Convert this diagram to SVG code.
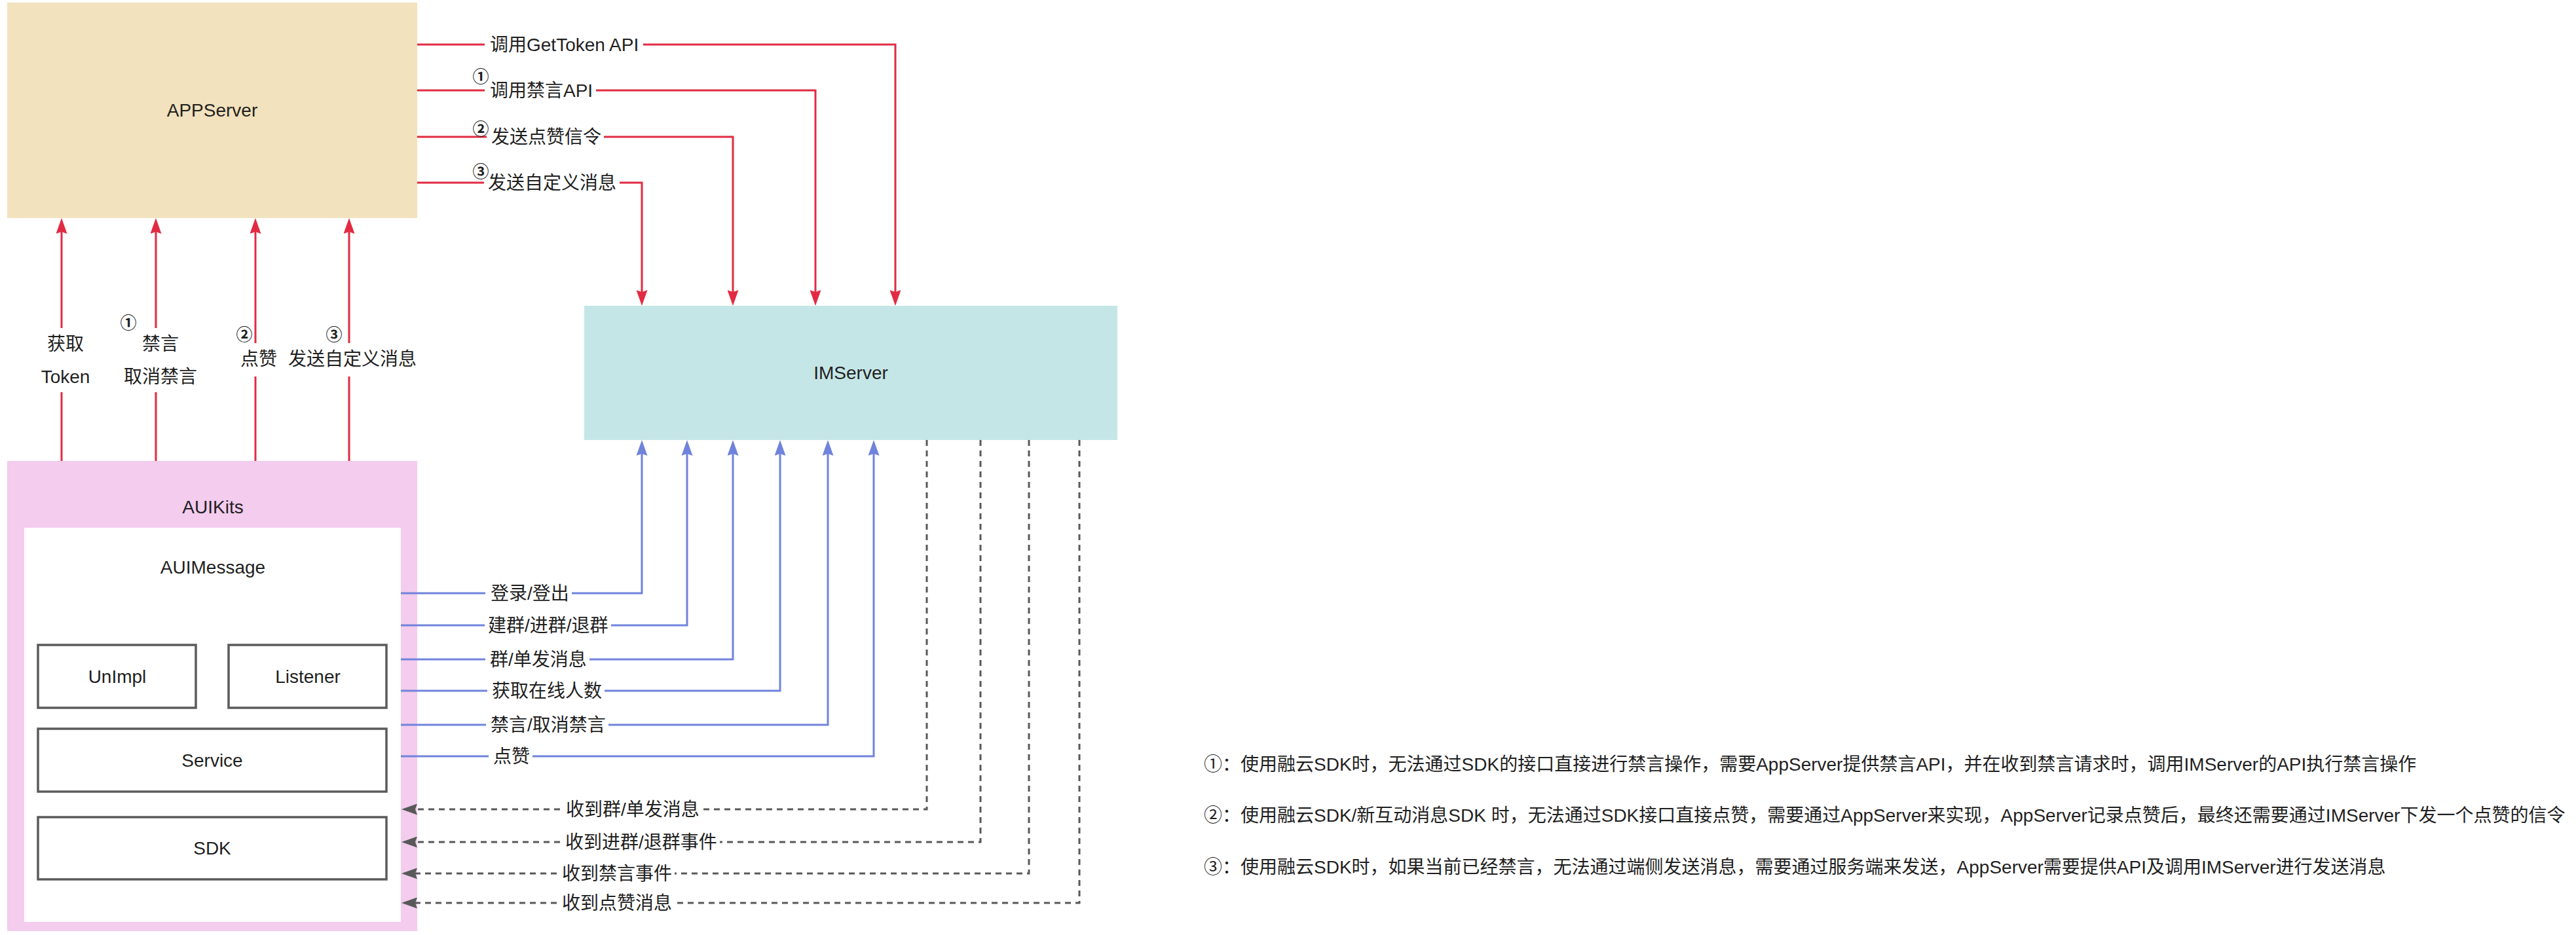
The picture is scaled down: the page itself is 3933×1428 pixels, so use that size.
<svg xmlns="http://www.w3.org/2000/svg" width="3933" height="1428" viewBox="0 0 3933 1428">
<style>
  text { font-family: "Liberation Sans", "Noto Sans CJK SC", sans-serif; font-size: 28px; fill: #1f1f1f; dominant-baseline: central; }
  .c { text-anchor: middle; }
  .num { font-family: "Noto Sans CJK SC", sans-serif; font-size: 25px; font-weight: 700; text-anchor: middle; }
  .box { fill: #ffffff; stroke: #5b5b5b; stroke-width: 3.5; }
  .red { fill: none; stroke: #e22b42; stroke-width: 3; marker-end: url(#arRed); }
  .blue { fill: none; stroke: #7083dc; stroke-width: 3; marker-end: url(#arBlue); }
  .dash { fill: none; stroke: #595959; stroke-width: 3; stroke-dasharray: 9 7; marker-end: url(#arGray); }
</style>
<defs>
  <marker id="arRed" viewBox="0 0 24 17" refX="14" refY="8.5" markerWidth="24" markerHeight="17" orient="auto" markerUnits="userSpaceOnUse">
    <path d="M0,0 L24,8.5 L0,17 L3,8.5 Z" fill="#e22b42"/>
  </marker>
  <marker id="arBlue" viewBox="0 0 24 17" refX="14" refY="8.5" markerWidth="24" markerHeight="17" orient="auto" markerUnits="userSpaceOnUse">
    <path d="M0,0 L24,8.5 L0,17 L3,8.5 Z" fill="#7083dc"/>
  </marker>
  <marker id="arGray" viewBox="0 0 24 17" refX="14" refY="8.5" markerWidth="24" markerHeight="17" orient="auto" markerUnits="userSpaceOnUse">
    <path d="M0,0 L24,8.5 L0,17 L3,8.5 Z" fill="#595959"/>
  </marker>
</defs>
<rect width="3933" height="1428" fill="#ffffff"/>

<g id="node-appserver">
  <rect x="11" y="4" width="626" height="329" fill="#f2e2bd"/>
  <text class="c" x="324" y="168">APPServer</text>
</g>
<g id="node-imserver">
  <rect x="892" y="467" width="814" height="205" fill="#c5e6e6"/>
  <text class="c" x="1299" y="569">IMServer</text>
</g>
<g id="node-auikits">
  <rect x="11" y="704" width="626" height="718" fill="#f3ccee"/>
  <text class="c" x="325" y="774">AUIKits</text>
</g>
<g id="node-auimessage">
  <rect x="37" y="806" width="575" height="602" fill="#ffffff"/>
  <text class="c" x="325" y="866">AUIMessage</text>
</g>
<g id="node-unimpl">
  <rect class="box" x="58" y="985" width="241" height="96"/>
  <text class="c" x="179" y="1033">UnImpl</text>
</g>
<g id="node-listener">
  <rect class="box" x="349" y="985" width="241" height="96"/>
  <text class="c" x="470" y="1033">Listener</text>
</g>
<g id="node-service">
  <rect class="box" x="58" y="1113" width="532" height="96"/>
  <text class="c" x="324" y="1161">Service</text>
</g>
<g id="node-sdk">
  <rect class="box" x="58" y="1248" width="532" height="95"/>
  <text class="c" x="324" y="1295">SDK</text>
</g>

<g id="connectors">
  <!-- AppServer -> IMServer -->
  <path class="red" d="M637,68 H740 M982,68 H1367 V457"/>
  <path class="red" d="M637,138 H740 M910,138 H1245 V457"/>
  <path class="red" d="M637,209 H743 M922,209 H1119 V457"/>
  <path class="red" d="M637,279 H739 M946,279 H980 V457"/>
  <text x="748" y="68">调用GetToken API</text>
  <text class="num" x="734" y="115">①</text>
  <text x="748" y="138">调用禁言API</text>
  <text class="num" x="734" y="195">②</text>
  <text x="750" y="209">发送点赞信令</text>
  <text class="num" x="734" y="260">③</text>
  <text x="745" y="279">发送自定义消息</text>

  <!-- AUIKits -> AppServer -->
  <path class="red" d="M94,704 V599 M94,501 V343"/>
  <path class="red" d="M238,704 V599 M238,501 V343"/>
  <path class="red" d="M390,704 V575 M390,524 V343"/>
  <path class="red" d="M533,704 V575 M533,524 V343"/>
  <text class="c" x="100" y="525">获取</text>
  <text class="c" x="100" y="575">Token</text>
  <text class="num" x="196" y="491">①</text>
  <text class="c" x="245" y="525">禁言</text>
  <text class="c" x="245" y="575">取消禁言</text>
  <text class="num" x="373" y="509">②</text>
  <text class="c" x="395" y="548">点赞</text>
  <text class="num" x="510" y="509">③</text>
  <text class="c" x="538" y="548">发送自定义消息</text>

  <!-- AUIMessage -> IMServer -->
  <path class="blue" d="M612,906 H741 M873,906 H980 V682"/>
  <path class="blue" d="M612,955 H740 M933,955 H1049 V682"/>
  <path class="blue" d="M612,1007 H741 M900,1007 H1119 V682"/>
  <path class="blue" d="M612,1055 H744 M923,1055 H1191 V682"/>
  <path class="blue" d="M612,1107 H742 M929,1107 H1264 V682"/>
  <path class="blue" d="M612,1155 H746 M813,1155 H1334 V682"/>
  <text x="749" y="906">登录/登出</text>
  <text x="745" y="955">建群/进群/退群</text>
  <text x="748" y="1007">群/单发消息</text>
  <text x="751" y="1055">获取在线人数</text>
  <text x="749" y="1107">禁言/取消禁言</text>
  <text x="753" y="1155">点赞</text>

  <!-- IMServer -> AUIMessage -->
  <path class="dash" d="M1415,672 V1236 H1072 M855,1236 H623"/>
  <path class="dash" d="M1497,672 V1286 H1099 M855,1286 H623"/>
  <path class="dash" d="M1571,672 V1334 H1030 M850,1334 H623"/>
  <path class="dash" d="M1648,672 V1379 H1030 M850,1379 H623"/>
  <text x="864" y="1236">收到群/单发消息</text>
  <text x="863" y="1286">收到进群/退群事件</text>
  <text x="858" y="1334">收到禁言事件</text>
  <text x="858" y="1379">收到点赞消息</text>
</g>

<g id="notes">
  <text x="1838" y="1167">①：使用融云SDK时，无法通过SDK的接口直接进行禁言操作，需要AppServer提供禁言API，并在收到禁言请求时，调用IMServer的API执行禁言操作</text>
  <text x="1838" y="1245">②：使用融云SDK/新互动消息SDK 时，无法通过SDK接口直接点赞，需要通过AppServer来实现，AppServer记录点赞后，最终还需要通过IMServer下发一个点赞的信令</text>
  <text x="1838" y="1324">③：使用融云SDK时，如果当前已经禁言，无法通过端侧发送消息，需要通过服务端来发送，AppServer需要提供API及调用IMServer进行发送消息</text>
</g>
</svg>
